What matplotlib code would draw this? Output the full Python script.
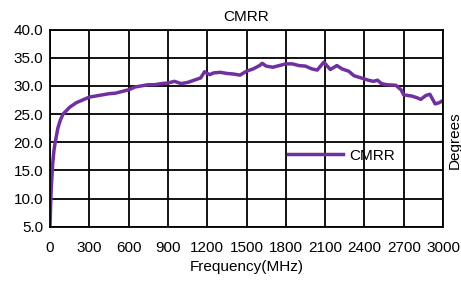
import numpy as np
import matplotlib.pyplot as plt

# CMRR curve, values
freq = [0, 5, 10, 20, 30, 40, 60, 80, 100, 150, 200, 250, 300, 350, 400, 450,
        500, 550, 600, 650, 700, 750, 800, 850, 900, 950, 1000, 1050, 1100,
        1150, 1180, 1200, 1220, 1250, 1300, 1350, 1400, 1450, 1500, 1550,
        1600, 1620, 1650, 1700, 1750, 1800, 1850, 1900, 1950, 2000, 2040,
        2090, 2140, 2190, 2230, 2280, 2320, 2390, 2430, 2470, 2500, 2530,
        2570, 2640, 2680, 2700, 2760, 2800, 2830, 2870, 2900, 2940, 2970, 3000]
cmrr = [5.0, 9.0, 12.0, 16.0, 18.5, 20.0, 22.5, 24.0, 25.0, 26.2, 27.0, 27.5,
        28.0, 28.2, 28.4, 28.6, 28.7, 29.0, 29.3, 29.8, 30.0, 30.2, 30.2,
        30.4, 30.5, 30.8, 30.4, 30.6, 31.0, 31.4, 32.5, 32.2, 32.0, 32.3,
        32.4, 32.2, 32.1, 31.9, 32.6, 33.0, 33.6, 34.0, 33.5, 33.3, 33.6,
        33.9, 33.9, 33.6, 33.5, 33.0, 32.8, 34.2, 32.9, 33.6, 33.0, 32.6,
        31.8, 31.3, 31.0, 30.8, 31.0, 30.4, 30.2, 30.1, 29.3, 28.4, 28.2,
        27.9, 27.6, 28.3, 28.5, 26.8, 27.0, 27.4]

xticks = np.arange(0, 3001, 300)
yticks = np.arange(5, 40.1, 5)

plt.rcParams['font.family'] = ['Liberation Sans', 'DejaVu Sans']

fig = plt.figure(figsize=(4.61, 2.82), dpi=100)
ax = fig.add_axes([50/461, 1 - 226.7/282, 393/461, 197.2/282])

ax.plot(freq, cmrr, color='#7030A0', linewidth=2.5, label='CMRR')

ax.set_xlim(0, 3000)
ax.set_ylim(5, 40)
ax.set_xticks(xticks)
ax.set_yticks(yticks)
ax.set_yticklabels(['%.1f' % v for v in yticks])
ax.grid(True, color='black', linewidth=1.3)
ax.tick_params(length=0, labelsize=11, pad=10)
ax.tick_params(axis='y', pad=5)
for s in ax.spines.values():
    s.set_linewidth(1.3)

ax.set_title('CMRR', fontsize=11, pad=6)
ax.set_xlabel('Frequency(MHz)', fontsize=11, labelpad=4)
fig.text(455/461, 1 - 140/282, 'Degrees', rotation=90, fontsize=11,
         ha='center', va='center')

ax.legend(loc='center left', bbox_to_anchor=(0.57, 0.36), frameon=False,
          fontsize=11, handlelength=3.6, handletextpad=0.4)

fig.savefig('out.png', dpi=100)
